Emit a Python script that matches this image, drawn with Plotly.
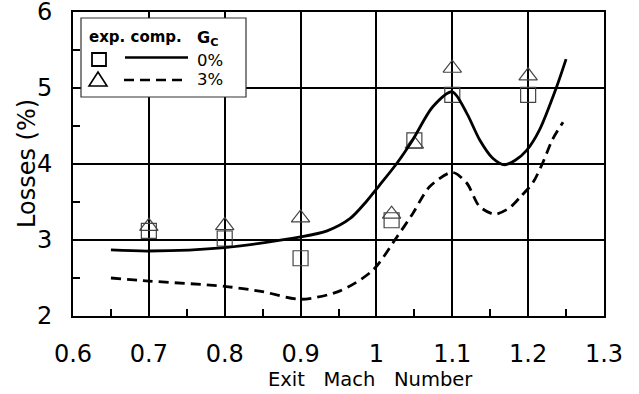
import plotly.graph_objects as go

# ---- data ----
exp_mach = [0.70, 0.80, 0.90, 1.02, 1.05, 1.10, 1.20]
exp_loss_0 = [3.12, 3.02, 2.76, 3.26, 4.31, 4.91, 4.91]
exp_loss_3 = [3.18, 3.19, 3.29, 3.34, 4.26, 5.26, 5.16]

comp0_mach = [0.65, 0.70, 0.80, 0.90, 0.935, 0.965, 0.987, 1.004, 1.027, 1.048, 1.074,
              1.10, 1.119, 1.136, 1.153, 1.169, 1.183, 1.198, 1.215, 1.237, 1.25]
comp0_loss = [2.87, 2.855, 2.90, 3.04, 3.12, 3.28, 3.51, 3.72, 4.01, 4.32, 4.75,
              4.95, 4.67, 4.32, 4.08, 3.99, 4.05, 4.18, 4.45, 5.00, 5.38]

comp3_mach = [0.65, 0.70, 0.80, 0.85, 0.90, 0.952, 0.995, 1.027, 1.048, 1.07, 1.10,
              1.119, 1.136, 1.156, 1.175, 1.19, 1.206, 1.219, 1.232, 1.246]
comp3_loss = [2.50, 2.46, 2.39, 2.32, 2.22, 2.33, 2.60, 3.04, 3.35, 3.70, 3.89,
              3.75, 3.44, 3.34, 3.42, 3.57, 3.75, 4.01, 4.32, 4.55]

x_ticks = [0.6, 0.7, 0.8, 0.9, 1.0, 1.1, 1.2, 1.3]
x_tick_text = ["0.6", "0.7", "0.8", "0.9", "1", "1.1", "1.2", "1.3"]
y_ticks = [2, 3, 4, 5, 6]

W, H = 639, 394
L, R, T, B = 73, 604, 12, 316
FONT = "DejaVu Sans, Liberation Sans, sans-serif"


def px(x):
    return (x - L) / (R - L)


def py(y):
    return (B - y) / (B - T)


fig = go.Figure()
fig.add_trace(go.Scatter(x=exp_mach, y=exp_loss_0, mode="markers",
                         marker=dict(symbol="square-open", size=15, color="#444",
                                     line=dict(width=1.2, color="#444")),
                         showlegend=False))
fig.add_trace(go.Scatter(x=exp_mach, y=exp_loss_3, mode="markers",
                         marker=dict(symbol="triangle-up-open", size=16, color="#444",
                                     line=dict(width=1.2, color="#444")),
                         showlegend=False))
fig.add_trace(go.Scatter(x=comp0_mach, y=comp0_loss, mode="lines",
                         line=dict(color="black", width=2.8, shape="spline", smoothing=0.8),
                         showlegend=False))
fig.add_trace(go.Scatter(x=comp3_mach, y=comp3_loss, mode="lines",
                         line=dict(color="black", width=2.8, shape="spline", smoothing=0.8,
                                   dash="10px,6px"),
                         showlegend=False))

axis_common = dict(showline=True, mirror=True, linecolor="black", linewidth=2,
                   showgrid=True, gridcolor="black", gridwidth=1.5, zeroline=False,
                   automargin=False, ticklabeloverflow="allow",
                   ticks="", tickfont=dict(family=FONT, size=24, color="black"))

fig.update_xaxes(range=[0.6, 1.3], tickvals=x_ticks, ticktext=x_tick_text,
                 ticklabelstandoff=15,
                 minor=dict(ticks="inside", tickvals=[0.65, 0.75, 0.85, 0.95, 1.05, 1.15, 1.25],
                            ticklen=7, tickwidth=1.5, tickcolor="black", showgrid=False),
                 **axis_common)
fig.update_yaxes(range=[2, 6], tickvals=y_ticks, ticklabelstandoff=14,
                 minor=dict(ticks="inside", tickvals=[2.5, 3.5, 4.5, 5.5],
                            ticklen=7, tickwidth=1.5, tickcolor="black", showgrid=False),
                 **axis_common)

shapes = []
# legend box
shapes.append(dict(type="rect", xref="paper", yref="paper", x0=px(81), x1=px(246),
                   y0=py(97), y1=py(18), line=dict(color="#333", width=1.2),
                   fillcolor="white", layer="above"))
# legend square
shapes.append(dict(type="rect", xref="paper", yref="paper", x0=px(92), x1=px(106),
                   y0=py(66), y1=py(53), line=dict(color="black", width=1.8), layer="above"))
# legend triangle
shapes.append(dict(type="path", xref="paper", yref="paper",
                   path=f"M {px(89)} {py(86)} L {px(107)} {py(86)} L {px(98)} {py(72)} Z",
                   line=dict(color="black", width=1.6), layer="above"))
# legend lines
shapes.append(dict(type="line", xref="paper", yref="paper", x0=px(125), x1=px(188),
                   y0=py(57.5), y1=py(57.5), line=dict(color="black", width=2.5), layer="above"))
shapes.append(dict(type="line", xref="paper", yref="paper", x0=px(124), x1=px(187),
                   y0=py(80), y1=py(80), line=dict(color="black", width=2.5, dash="10px,6px"),
                   layer="above"))

annotations = [
    dict(text="<b>exp.\u00a0comp.</b>", x=px(87), y=py(37), xref="paper", yref="paper",
         xanchor="left", yanchor="middle", showarrow=False,
         font=dict(family=FONT, size=15, color="black")),
    dict(text="<b>G<sub>C</sub></b>", x=px(195), y=py(39), xref="paper", yref="paper",
         xanchor="left", yanchor="middle", showarrow=False,
         font=dict(family=FONT, size=16, color="black")),
    dict(text="0%", x=px(195), y=py(60), xref="paper", yref="paper",
         xanchor="left", yanchor="middle", showarrow=False,
         font=dict(family=FONT, size=16.5, color="black")),
    dict(text="3%", x=px(195), y=py(79), xref="paper", yref="paper",
         xanchor="left", yanchor="middle", showarrow=False,
         font=dict(family=FONT, size=16.5, color="black")),
    dict(text="Exit\u00a0\u00a0\u00a0Mach\u00a0\u00a0\u00a0Number", x=px(370), y=py(379),
         xref="paper", yref="paper", xanchor="center", yanchor="middle", showarrow=False,
         font=dict(family=FONT, size=19.5, color="black")),
    dict(text="Losses (%)", x=px(27), y=0.5, xref="paper", yref="paper", textangle=-90,
         xanchor="center", yanchor="middle", showarrow=False,
         font=dict(family=FONT, size=24, color="black")),
]

fig.update_layout(width=W, height=H, margin=dict(l=L, r=W - R, t=T, b=H - B),
                  plot_bgcolor="white", paper_bgcolor="white",
                  shapes=shapes, annotations=annotations, showlegend=False)

fig.write_html("out.html")
